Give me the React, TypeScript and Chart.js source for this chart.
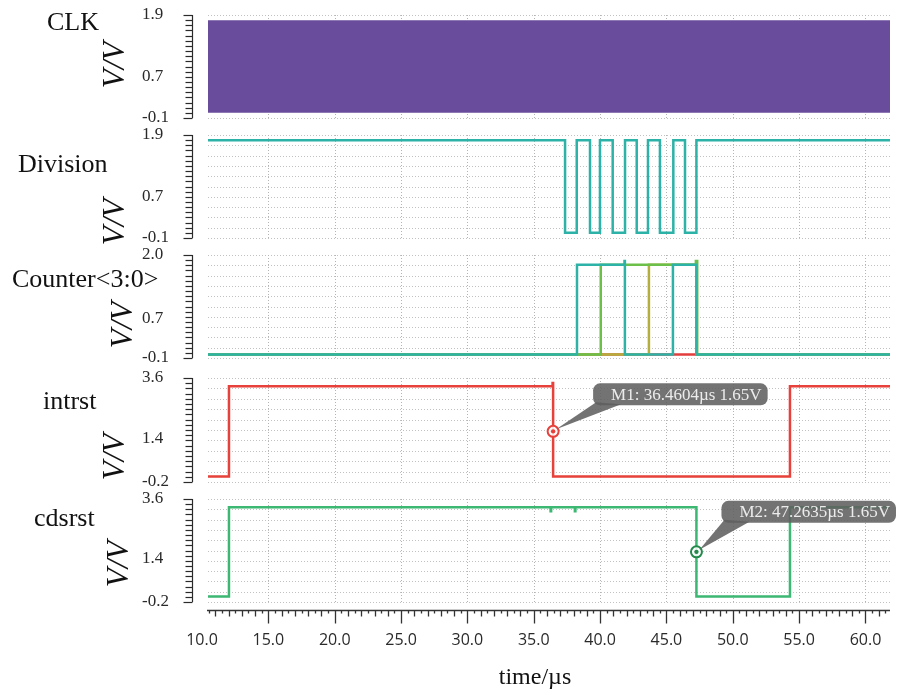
import React, { useEffect, useRef } from 'react';
import { Chart, registerables } from 'chart.js';

Chart.register(...registerables);

// ---------- shared time axis ----------
const X_MIN = 10.45;
const X_MAX = 61.85;
const xTickValues = [10, 15, 20, 25, 30, 35, 40, 45, 50, 55, 60];

// ---------- CLK (very fast clock, appears as a solid band) ----------
const clkTimes = [10.45, 61.85];
const clkHigh = 1.8;
const clkLow = 0;

// ---------- Division ----------
const divTimes = [10.45, 37.36, 38.24, 39.24, 39.99, 40.95, 41.88, 42.76, 43.61, 44.51, 45.52, 46.4, 47.26, 61.85];
const divLevels = [1.8, 0, 1.8, 0, 1.8, 0, 1.8, 0, 1.8, 0, 1.8, 0, 1.8, 1.8];

// ---------- Counter<3:0> bits ----------
const cntTealTimes = [10.45, 38.26, 41.84, 41.87, 45.49, 47.26, 61.85];
const cntTealLevels = [-0.03, 1.8, 1.88, -0.03, 1.8, -0.03, -0.03];
const cntGreenTimes = [10.45, 40.05, 47.22, 47.32, 61.85];
const cntGreenLevels = [-0.03, 1.8, 1.88, -0.03, -0.03];
const cntOliveTimes = [10.45, 43.68, 47.26, 61.85];
const cntOliveLevels = [-0.03, 1.8, -0.03, -0.03];
const cntRedTimes = [10.45, 61.85];
const cntRedLevels = [-0.03, -0.03];

// ---------- intrst ----------
const intrstTimes = [10.45, 12.03, 36.42, 36.46, 54.31, 61.85];
const intrstLevels = [0, 3.3, 3.42, 0, 3.3, 3.3];

// ---------- cdsrst ----------
const cdsrstTimes = [10.45, 12.03, 36.27, 36.31, 38.1, 38.14, 47.26, 54.31, 61.85];
const cdsrstLevels = [0, 3.3, 3.15, 3.3, 3.15, 3.3, 0, 3.3, 3.3];

// ---------- markers ----------
const m1Time = 36.4604;
const m1Volt = 1.65;
const m2Time = 47.2635;
const m2Volt = 1.65;

// ---------- y axes ----------
const clkRange = [-0.1, 1.9];
const clkYLabels = [-0.1, 0.7, 1.9];
const divRange = [-0.1, 1.9];
const divYLabels = [-0.1, 0.7, 1.9];
const cntRange = [-0.1, 2.0];
const cntYLabels = [-0.1, 0.7, 2.0];
const rstRange = [-0.2, 3.6];
const rstYLabels = [-0.2, 1.4, 3.6];

const TEAL = '#2cb2a7';
const PURPLE = '#6a4c9c';
const RED = '#e8403a';
const GREEN = '#3db873';
const SERIF = '"Liberation Serif", "Times New Roman", serif';

const zip = (ts: number[], vs: number[]) => ts.map((t, i) => ({ x: t, y: vs[i] }));

const stepLine = (data: any[], color: string, width = 2.5) => ({
  data,
  borderColor: color,
  backgroundColor: color,
  borderWidth: width,
  stepped: 'before',
  pointRadius: 0,
  fill: false,
});

const markerSets = (pt: { x: number; y: number }, color: string) => [
  {
    data: [pt],
    showLine: false,
    pointRadius: 2.2,
    pointBackgroundColor: color,
    pointBorderWidth: 0,
  },
  {
    data: [pt],
    showLine: false,
    pointRadius: 5.5,
    pointBorderColor: color,
    pointBorderWidth: 2,
    pointBackgroundColor: 'rgba(255,255,255,0.85)',
  },
];

type Callout = { x: number; y: number; text: string; dx: number; dy: number };

type PanelDef = {
  key: string;
  range: number[];
  yLabels: number[];
  topPx: number;
  bottomPx: number;
  showX: boolean;
  datasets: any[];
  callouts: Callout[];
};

const panels: PanelDef[] = [
  {
    key: 'clk',
    range: clkRange,
    yLabels: clkYLabels,
    topPx: 15,
    bottomPx: 118,
    showX: false,
    datasets: [
      {
        data: clkTimes.map((t) => ({ x: t, y: clkHigh })),
        borderWidth: 0,
        borderColor: PURPLE,
        backgroundColor: PURPLE,
        pointRadius: 0,
        fill: { value: clkLow },
      },
    ],
    callouts: [],
  },
  {
    key: 'div',
    range: divRange,
    yLabels: divYLabels,
    topPx: 135,
    bottomPx: 238,
    showX: false,
    datasets: [stepLine(zip(divTimes, divLevels), TEAL)],
    callouts: [],
  },
  {
    key: 'cnt',
    range: cntRange,
    yLabels: cntYLabels,
    topPx: 255,
    bottomPx: 358,
    showX: false,
    datasets: [
      stepLine(zip(cntTealTimes, cntTealLevels), TEAL),
      stepLine(zip(cntGreenTimes, cntGreenLevels), '#6cc04a'),
      stepLine(zip(cntOliveTimes, cntOliveLevels), '#b4ae3c'),
      stepLine(zip(cntRedTimes, cntRedLevels), '#e23c3c'),
    ],
    callouts: [],
  },
  {
    key: 'intrst',
    range: rstRange,
    yLabels: rstYLabels,
    topPx: 378,
    bottomPx: 482,
    showX: false,
    datasets: [
      ...markerSets({ x: m1Time, y: m1Volt }, RED),
      stepLine(zip(intrstTimes, intrstLevels), RED),
    ],
    callouts: [{ x: m1Time, y: m1Volt, text: `M1: ${m1Time.toFixed(4)}\u00b5s ${m1Volt}V`, dx: 40, dy: -48 }],
  },
  {
    key: 'cdsrst',
    range: rstRange,
    yLabels: rstYLabels,
    topPx: 499,
    bottomPx: 602,
    showX: true,
    datasets: [
      ...markerSets({ x: m2Time, y: m2Volt }, '#248a4c'),
      stepLine(zip(cdsrstTimes, cdsrstLevels), GREEN),
    ],
    callouts: [{ x: m2Time, y: m2Volt, text: `M2: ${m2Time.toFixed(4)}\u00b5s ${m2Volt}V`, dx: 25, dy: -51 }],
  },
];

const PAD = 20;
const X_AXIS_H = 90;

function makePlugin(p: PanelDef) {
  return {
    id: 'panelDecor_' + p.key,
    beforeDatasetsDraw(chart: any) {
      const { ctx, chartArea: a, scales } = chart;
      const x = scales.x;
      const y = scales.y;
      const [yMin, yMax] = p.range;
      ctx.save();
      // horizontal dotted grid
      ctx.strokeStyle = '#c2c2c2';
      ctx.lineWidth = 1;
      ctx.setLineDash([1, 2]);
      for (let i = 0; i <= 10; i++) {
        const py = Math.round(y.getPixelForValue(yMin + ((yMax - yMin) * i) / 10)) + 0.5;
        ctx.beginPath();
        ctx.moveTo(a.left, py);
        ctx.lineTo(a.right, py);
        ctx.stroke();
      }
      // vertical dotted grid
      ctx.strokeStyle = '#b4b4b4';
      for (const v of xTickValues) {
        if (v < x.min || v > x.max) continue;
        const px = Math.round(x.getPixelForValue(v)) + 0.5;
        ctx.beginPath();
        ctx.moveTo(px, a.top);
        ctx.lineTo(px, a.bottom);
        ctx.stroke();
      }
      ctx.setLineDash([]);
      // y ruler
      ctx.strokeStyle = '#2a2a2a';
      ctx.lineWidth = 1.2;
      const spineX = a.left - 15.5;
      const yTop = y.getPixelForValue(yMax);
      const yBot = y.getPixelForValue(yMin);
      ctx.beginPath();
      ctx.moveTo(spineX, yTop);
      ctx.lineTo(spineX, yBot);
      ctx.stroke();
      for (let i = 0; i <= 20; i++) {
        const py = Math.round(y.getPixelForValue(yMin + ((yMax - yMin) * i) / 20)) + 0.5;
        const len = i === 0 || i === 20 ? 9 : 7;
        ctx.beginPath();
        ctx.moveTo(spineX, py);
        ctx.lineTo(spineX - len, py);
        ctx.stroke();
      }
      // x axis ruler
      if (p.showX) {
        const ay = Math.round(a.bottom + 8) + 0.5;
        ctx.strokeStyle = '#333';
        ctx.lineWidth = 1.5;
        ctx.beginPath();
        ctx.moveTo(a.left - 1, ay);
        ctx.lineTo(a.right, ay);
        ctx.stroke();
        ctx.lineWidth = 1.3;
        const start = Math.ceil(x.min * 2) / 2;
        for (let v = start; v <= x.max + 1e-9; v += 0.5) {
          const px = Math.round(x.getPixelForValue(v)) + 0.5;
          const r5 = Math.abs(v / 5 - Math.round(v / 5)) < 1e-6;
          const r1 = Math.abs(v - Math.round(v)) < 1e-6;
          const len = r5 ? 13 : r1 ? 6 : 3;
          ctx.beginPath();
          ctx.moveTo(px, ay);
          ctx.lineTo(px, ay + len);
          ctx.stroke();
        }
      }
      ctx.restore();
    },
    afterDatasetsDraw(chart: any) {
      const { ctx, scales } = chart;
      for (const c of p.callouts) {
        const mx = scales.x.getPixelForValue(c.x);
        const my = scales.y.getPixelForValue(c.y);
        ctx.save();
        ctx.font = `17px ${SERIF}`;
        const tw = ctx.measureText(c.text).width;
        const bx = mx + c.dx;
        const by = my + c.dy;
        const bw = tw + 24;
        const bh = 22;
        ctx.fillStyle = 'rgba(96,96,96,0.88)';
        // wedge
        ctx.beginPath();
        ctx.moveTo(mx + 3, my - 2);
        ctx.lineTo(bx + 3, by + bh - 3);
        ctx.lineTo(bx + 28, by + bh - 1);
        ctx.closePath();
        ctx.fill();
        // box
        ctx.beginPath();
        (ctx as any).roundRect(bx, by, bw, bh, 7);
        ctx.fill();
        ctx.fillStyle = '#ececec';
        ctx.textBaseline = 'middle';
        ctx.textAlign = 'left';
        ctx.fillText(c.text, bx + 18, by + bh / 2 + 1);
        ctx.restore();
      }
    },
  };
}

function Panel({ p }: { p: PanelDef }) {
  const ref = useRef<HTMLCanvasElement | null>(null);
  const canvasTop = p.topPx - PAD;
  const height = p.showX ? 692 - canvasTop : p.bottomPx - p.topPx + 2 * PAD;

  useEffect(() => {
    if (!ref.current) return;
    const chart = new Chart(ref.current, {
      type: 'line',
      data: { datasets: p.datasets },
      options: {
        animation: false,
        responsive: false,
        maintainAspectRatio: false,
        events: [],
        layout: { padding: { left: 142, right: 8, top: PAD, bottom: p.showX ? 0 : PAD } },
        plugins: { legend: { display: false }, tooltip: { enabled: false } },
        scales: {
          x: {
            type: 'linear',
            min: X_MIN,
            max: X_MAX,
            display: p.showX,
            grid: { display: false, drawTicks: false },
            border: { display: false },
            ticks: {
              autoSkip: false,
              maxRotation: 0,
              padding: 29,
              color: '#2a2a2a',
              font: { family: '"Open Sans", sans-serif', size: 16 },
              callback: (v: any) => Number(v).toFixed(1),
            },
            afterBuildTicks: (s: any) => {
              s.ticks = xTickValues.map((v) => ({ value: v }));
            },
            afterFit: (s: any) => {
              if (p.showX) s.height = X_AXIS_H;
              else s.height = 0;
              s.paddingLeft = 0;
              s.paddingRight = 0;
            },
          },
          y: {
            type: 'linear',
            min: p.range[0],
            max: p.range[1],
            grid: { display: false, drawTicks: false },
            border: { display: false },
            ticks: {
              autoSkip: false,
              crossAlign: 'far',
              padding: 0,
              color: '#2a2a2a',
              font: { family: SERIF, size: 17 },
              callback: (v: any) => Number(v).toFixed(1),
            },
            afterBuildTicks: (s: any) => {
              s.ticks = p.yLabels.map((v) => ({ value: v }));
            },
            afterFit: (s: any) => {
              s.width = 66;
            },
          },
        },
      } as any,
      plugins: [makePlugin(p)],
    });
    return () => chart.destroy();
  }, []);

  return (
    <canvas
      ref={ref}
      width={898}
      height={height}
      style={{ position: 'absolute', left: 0, top: canvasTop, width: 898, height, display: 'block' }}
    />
  );
}

const nameStyle = (left: number, top: number): React.CSSProperties => ({
  position: 'absolute',
  left,
  top,
  fontFamily: SERIF,
  fontSize: 26,
  lineHeight: 1,
  color: '#111',
  whiteSpace: 'nowrap',
});

const vvStyle = (cx: number, cy: number): React.CSSProperties => ({
  position: 'absolute',
  left: cx,
  top: cy,
  transform: 'translate(-50%, -50%) rotate(-90deg)',
  fontFamily: SERIF,
  fontStyle: 'italic',
  fontSize: 31,
  lineHeight: 1,
  color: '#111',
  whiteSpace: 'nowrap',
});

export default function App() {
  return (
    <div
      style={{
        position: 'fixed',
        left: 0,
        top: 0,
        width: 898,
        height: 692,
        background: '#fff',
        overflow: 'hidden',
      }}
    >
      {panels.map((p) => (
        <Panel key={p.key} p={p} />
      ))}
      <div style={nameStyle(47, 9)}>CLK</div>
      <div style={nameStyle(18, 151)}>Division</div>
      <div style={nameStyle(12, 266)}>Counter&lt;3:0&gt;</div>
      <div style={nameStyle(43, 388)}>intrst</div>
      <div style={nameStyle(34, 505)}>cdsrst</div>
      <div style={vvStyle(113, 65)}>V/V</div>
      <div style={vvStyle(113, 222)}>V/V</div>
      <div style={vvStyle(121, 325)}>V/V</div>
      <div style={vvStyle(113, 457)}>V/V</div>
      <div style={vvStyle(117, 564)}>V/V</div>
      <div
        style={{
          position: 'absolute',
          left: 535,
          top: 664,
          transform: 'translateX(-50%)',
          fontFamily: SERIF,
          fontSize: 24,
          lineHeight: 1,
          color: '#111',
          whiteSpace: 'nowrap',
        }}
      >
        time/µs
      </div>
    </div>
  );
}
